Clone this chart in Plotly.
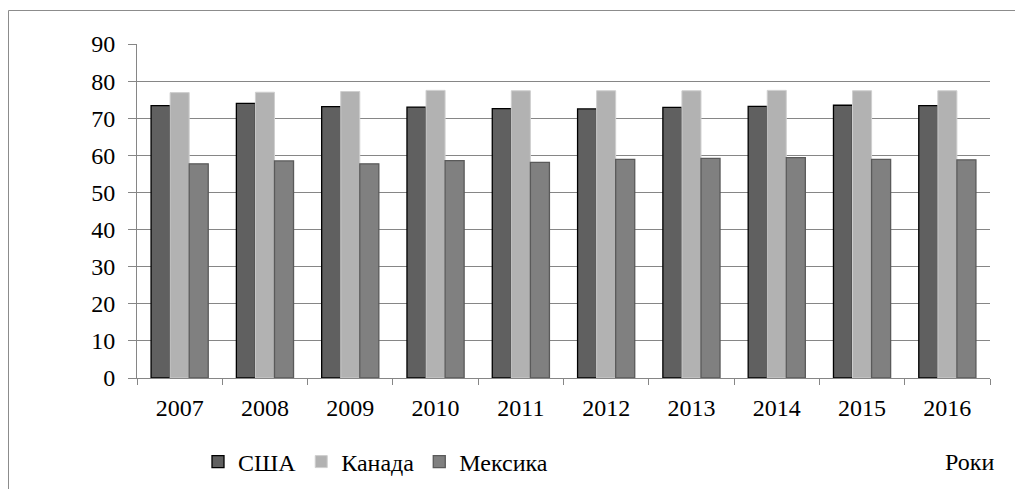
import plotly.graph_objects as go

years = ["2007", "2008", "2009", "2010", "2011", "2012", "2013", "2014", "2015", "2016"]
usa = [73.4, 74.0, 73.1, 73.0, 72.6, 72.5, 72.9, 73.2, 73.5, 73.4]
canada = [76.9, 77.0, 77.2, 77.5, 77.4, 77.4, 77.4, 77.5, 77.4, 77.4]
mexico = [57.7, 58.5, 57.7, 58.6, 58.1, 58.9, 59.2, 59.4, 58.9, 58.8]
y_ticks = [0, 10, 20, 30, 40, 50, 60, 70, 80, 90]

FONT = "Liberation Serif, Times New Roman, serif"
W, H = 1015, 489
# target plot area in screen px
SL, SR, ST, SB = 137, 990, 44, 378
L, T = SL, ST
R, B = W - SR, H - SB
pw, ph = W - L - R, H - T - B

fig = go.Figure()
fig.add_trace(go.Bar(name="США", x=years, y=usa, marker=dict(color="#606060", line=dict(color="#000000", width=1.3))))
fig.add_trace(go.Bar(name="Канада", x=years, y=canada, marker=dict(color="#b2b2b2", line=dict(color="#cfcfcf", width=1))))
fig.add_trace(go.Bar(name="Мексика", x=years, y=mexico, marker=dict(color="#808080", line=dict(color="#5a5a5a", width=1.3))))

def px_x(p):
    return (p - SL) / pw

def px_y(p):
    return 1 - (p - ST) / ph

fig.update_layout(
    width=W, height=H, autosize=False,
    margin=dict(l=L, r=R, t=T, b=B, pad=0, autoexpand=False),
    paper_bgcolor="white", plot_bgcolor="white",
    font=dict(family=FONT, size=24, color="#000000"),
    barmode="group", bargap=0.33, bargroupgap=0,
    showlegend=True,
    legend=dict(orientation="h", x=px_x(198), xanchor="left", y=px_y(462), yanchor="middle",
                font=dict(family=FONT, size=24), bgcolor="rgba(0,0,0,0)", itemclick=False,
                traceorder="normal"),
    xaxis=dict(showgrid=False, showline=True, linecolor="#868686", linewidth=1,
               ticks="outside", ticklen=6, tickcolor="#868686", tickson="boundaries",
               tickfont=dict(family=FONT, size=24), ticklabelstandoff=8, fixedrange=True,
               automargin=False),
    yaxis=dict(range=[0, 90], tickvals=y_ticks, showgrid=True, gridcolor="#868686", gridwidth=1,
               showline=True, linecolor="#868686", linewidth=1, ticks="outside", ticklen=8,
               tickcolor="#868686", tickfont=dict(family=FONT, size=24), zeroline=False,
               ticklabelstandoff=8, fixedrange=True, automargin=False),
    shapes=[
        dict(type="line", xref="paper", yref="paper", x0=px_x(8.5), x1=px_x(1015), y0=px_y(10.5), y1=px_y(10.5),
             line=dict(color="#8c8c8c", width=1)),
        dict(type="line", xref="paper", yref="paper", x0=px_x(8.5), x1=px_x(8.5), y0=px_y(10.5), y1=px_y(489),
             line=dict(color="#8c8c8c", width=1)),
    ],
    annotations=[
        dict(text="Роки", xref="paper", yref="paper", x=px_x(969), y=px_y(462), xanchor="center",
             yanchor="middle", showarrow=False, font=dict(family=FONT, size=24)),
    ],
)

fig.write_html("out.html", config={"displayModeBar": False},
               post_script="document.body.style.margin='0';document.body.style.overflow='hidden';")
